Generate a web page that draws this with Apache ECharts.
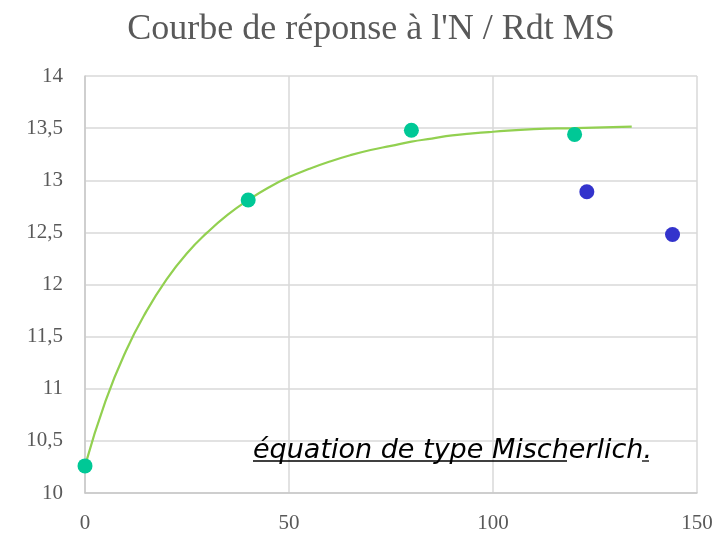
<!DOCTYPE html>
<html>
<head>
<meta charset="utf-8">
<script src="https://cdn.jsdelivr.net/npm/echarts@6/dist/echarts.min.js"></script>
<style>
  html, body { margin: 0; padding: 0; background: #fff; }
  #chart { width: 719px; height: 534px; }
</style>
</head>
<body>
<div id="chart"></div>
<script>
  // points mesurés (N, Rdt MS)
  var measuredPts = [[0, 10.26], [40, 12.81], [80, 13.48], [120, 13.44]]
  var extraPts = [[123, 12.89], [144, 12.48]]
  // courbe ajustée
  var fitCurve = [
    [0, 10.26], [5, 10.88], [10, 11.36], [15, 11.74], [20, 12.05], [25, 12.30],
    [30, 12.50], [35, 12.67], [40, 12.81], [45, 12.93], [50, 13.03], [55, 13.11],
    [60, 13.18], [65, 13.24], [70, 13.29], [75, 13.33], [80, 13.37], [85, 13.40],
    [90, 13.43], [95, 13.45], [100, 13.465], [110, 13.49], [120, 13.5], [134, 13.515]
  ]
  var titleText = "Courbe de réponse à l'N / Rdt MS"
  var noteText = 'équation de type Mischerlich.'

  var chart = echarts.init(document.getElementById('chart'))
  var gridColor = '#d9d9d9'
  var labelColor = '#595959'

  chart.setOption({
    animation: false,
    title: {
      text: titleText,
      left: 366,
      top: 7,
      textAlign: 'center',
      textStyle: {
        fontFamily: 'Liberation Serif',
        fontWeight: 'normal',
        fontSize: 36,
        color: labelColor
      }
    },
    grid: { left: 85, right: 22, top: 76, bottom: 37 },
    xAxis: {
      type: 'value',
      min: 0,
      max: 150,
      interval: 50,
      axisLine: { show: true, lineStyle: { color: '#c8c8c8', width: 1.5 } },
      axisTick: { show: false },
      splitLine: { lineStyle: { color: gridColor, width: 1.5 } },
      axisLabel: {
        margin: 20,
        fontFamily: 'Liberation Serif',
        fontSize: 21,
        color: labelColor
      }
    },
    yAxis: {
      type: 'value',
      min: 10,
      max: 14,
      interval: 0.5,
      axisLine: { show: true, lineStyle: { color: '#c8c8c8', width: 1.5 } },
      axisTick: { show: false },
      splitLine: { lineStyle: { color: gridColor, width: 1.5 } },
      axisLabel: {
        margin: 22,
        fontFamily: 'Liberation Serif',
        fontSize: 21,
        color: labelColor,
        formatter: function (v) { return String(v).replace('.', ',') }
      }
    },
    graphic: [
      {
        type: 'text',
        x: 253,
        y: 464,
        z: 10,
        style: {
          text: noteText,
          font: 'italic 27px "DejaVu Sans"',
          verticalAlign: 'bottom',
          fill: '#000'
        }
      },
      { type: 'line', z: 10, shape: { x1: 253, y1: 461, x2: 567, y2: 461 }, style: { stroke: '#000', lineWidth: 1.3 } },
      { type: 'line', z: 10, shape: { x1: 642, y1: 461, x2: 649, y2: 461 }, style: { stroke: '#000', lineWidth: 1.3 } }
    ],
    series: [
      {
        name: 'courbe',
        type: 'line',
        data: fitCurve,
        smooth: 0.5,
        showSymbol: false,
        lineStyle: { color: '#92d050', width: 2.2 },
        z: 2
      },
      {
        name: 'mesures',
        type: 'scatter',
        data: measuredPts,
        symbolSize: 15,
        itemStyle: { color: '#00c896', opacity: 1 },
        z: 3
      },
      {
        name: 'autres',
        type: 'scatter',
        data: extraPts,
        symbolSize: 15,
        itemStyle: { color: '#3333cc', opacity: 1 },
        z: 3
      }
    ]
  })
</script>
</body>
</html>
